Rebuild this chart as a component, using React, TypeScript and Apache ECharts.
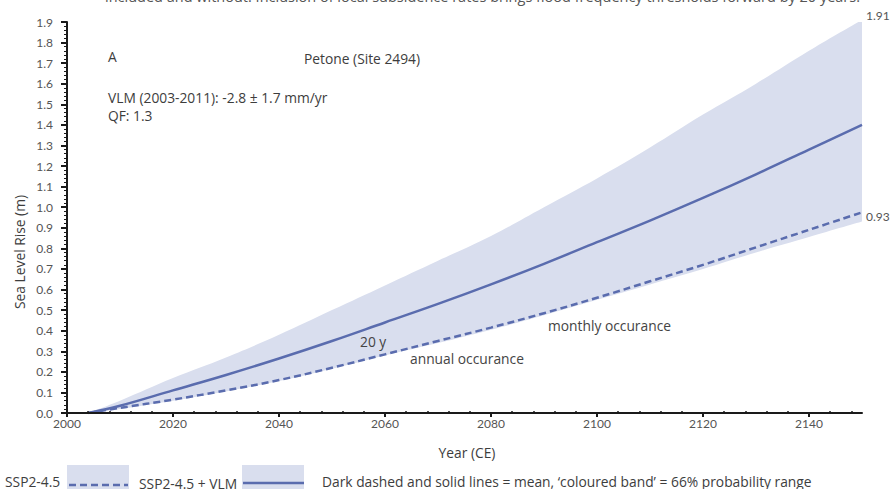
import React, { useEffect, useRef } from "react";
import * as echarts from "echarts";

const years = [2004, 2010, 2020, 2030, 2040, 2050, 2060, 2070, 2080, 2090, 2100, 2110, 2120, 2130, 2140, 2150];
const vlmMean = [0, 0.035, 0.11, 0.185, 0.265, 0.35, 0.44, 0.53, 0.625, 0.725, 0.83, 0.935, 1.045, 1.16, 1.28, 1.4];
const sspMean = [0, 0.025, 0.065, 0.11, 0.16, 0.22, 0.285, 0.35, 0.415, 0.485, 0.56, 0.64, 0.72, 0.805, 0.89, 0.975];
const bandUpper = [0, 0.06, 0.17, 0.27, 0.38, 0.5, 0.62, 0.74, 0.86, 1.0, 1.14, 1.29, 1.45, 1.6, 1.76, 1.91];
const bandLower = [0, 0.02, 0.06, 0.105, 0.155, 0.215, 0.28, 0.34, 0.405, 0.475, 0.55, 0.625, 0.7, 0.78, 0.855, 0.93];
const yTicks = { min: 0, max: 1.9, interval: 0.1 };
const xTicks = { min: 2000, max: 2150, interval: 20 };

const LINE = "#5a6cae";
const BAND = "#d9deee";
const TEXT = "#3d3d3d";
const FONT = "Lato";
const TFONT = "Open Sans";
const TSIZE = 13.8;

export default function App() {
  const ref = useRef<HTMLDivElement>(null);
  useEffect(() => {
    if (!ref.current) return;
    const chart = echarts.init(ref.current, undefined, { renderer: "svg" });
    const pair = (arr: number[]) => years.map((y, i) => [y, arr[i]]);
    const txt = (x: number, y: number, text: string, extra: any = {}) => ({
      type: "text",
      x,
      y,
      z: 100,
      style: { text, fill: TEXT, fontSize: TSIZE, fontFamily: TFONT, verticalAlign: "middle", ...extra },
    });
    chart.setOption({
      animation: false,
      textStyle: { fontFamily: FONT },
      grid: { left: 67, right: 31, top: 22, bottom: 76 },
      xAxis: [
        {
          type: "value",
          z: 10,
          min: xTicks.min,
          max: xTicks.max,
          interval: xTicks.interval,
          axisLine: { show: true, lineStyle: { color: "#1a1a1a", width: 2 } },
          axisTick: { show: true, length: 4, lineStyle: { color: "#1a1a1a", width: 2 } },
          minorTick: { show: false },
          splitLine: { show: false },
          axisLabel: {
            margin: 4,
            color: "#555",
            fontSize: 12,
            fontFamily: FONT,
            showMaxLabel: false,
            formatter: (v: number) => (v % 20 === 0 ? String(v) : ""),
          },
        },
        {
          type: "value",
          z: 10,
          position: "bottom",
          min: xTicks.min,
          max: xTicks.max,
          interval: xTicks.interval,
          axisLine: { show: false },
          axisTick: { show: false, inside: true },
          minorTick: { show: true, splitNumber: 5, length: 2, lineStyle: { color: "#1a1a1a", width: 1.5 } },
          splitLine: { show: false },
          axisLabel: { show: false },
        },
      ],
      yAxis: {
        type: "value",
        z: 10,
        min: yTicks.min,
        max: yTicks.max,
        interval: yTicks.interval,
        axisLine: { show: true, lineStyle: { color: "#1a1a1a", width: 2 } },
        axisTick: { show: true, length: 6, lineStyle: { color: "#1a1a1a", width: 2 } },
        minorTick: { show: true, splitNumber: 5, length: 3, lineStyle: { color: "#1a1a1a", width: 1 } },
        splitLine: { show: false },
        axisLabel: {
          margin: 14,
          color: "#555",
          fontSize: 12,
          fontFamily: FONT,
          formatter: (v: number) => v.toFixed(1),
        },
      },
      series: [
        {
          name: "band upper",
          type: "line",
          data: pair(bandUpper),
          symbol: "none",
          smooth: 0.4,
          lineStyle: { width: 0, opacity: 0 },
          areaStyle: { color: BAND, opacity: 1 },
          silent: true,
          z: 1,
        },
        {
          name: "band lower",
          type: "line",
          data: pair(bandLower),
          symbol: "none",
          smooth: 0.4,
          lineStyle: { width: 0, opacity: 0 },
          areaStyle: { color: "#ffffff", opacity: 1 },
          silent: true,
          z: 2,
        },
        {
          name: "SSP2-4.5",
          type: "line",
          data: pair(sspMean),
          symbol: "none",
          smooth: 0.4,
          lineStyle: { color: LINE, width: 2.5, type: [7, 4] },
          z: 3,
        },
        {
          name: "SSP2-4.5 + VLM",
          type: "line",
          data: pair(vlmMean),
          symbol: "none",
          smooth: 0.4,
          lineStyle: { color: LINE, width: 2.5 },
          z: 3,
        },
      ],
      graphic: [
        {
          type: "text", left: 105, top: -11, z: 100,
          style: { text: "included and without. Inclusion of local subsidence rates brings flood frequency thresholds forward by 20 years.", fill: "#555", fontSize: 14.5, fontFamily: TFONT },
        },
        txt(108, 56, "A"),
        txt(304, 58, "Petone (Site 2494)"),
        txt(108, 97, "VLM (2003-2011): -2.8 ± 1.7 mm/yr"),
        txt(108, 115, "QF: 1.3"),
        txt(360, 341, "20 y", { fill: "#444" }),
        txt(410, 358, "annual occurance", { fill: "#444" }),
        txt(548, 325, "monthly occurance", { fill: "#444" }),
        txt(866, 15, "1.91", { fill: "#555", fontSize: 12, fontFamily: FONT }),
        txt(866, 216, "0.93", { fill: "#555", fontSize: 12, fontFamily: FONT }),
        { type: "text", x: 19, y: 252, z: 100, rotation: Math.PI / 2, style: { text: "Sea Level Rise (m)", fill: TEXT, fontSize: TSIZE, fontFamily: TFONT, align: "center", verticalAlign: "middle" } },
        txt(467, 452, "Year (CE)", { align: "center" }),
        txt(5, 481, "SSP2-4.5"),
        { type: "rect", z: 50, shape: { x: 67, y: 465, width: 62, height: 26 }, style: { fill: BAND } },
        { type: "line", z: 60, shape: { x1: 69, y1: 485, x2: 128, y2: 485 }, style: { stroke: LINE, lineWidth: 2.5, lineDash: [7, 4] } },
        txt(139, 483, "SSP2-4.5 + VLM"),
        { type: "rect", z: 50, shape: { x: 242, y: 465, width: 62, height: 26 }, style: { fill: BAND } },
        { type: "line", z: 60, shape: { x1: 243, y1: 483, x2: 304, y2: 483 }, style: { stroke: LINE, lineWidth: 2.5 } },
        txt(322, 481, "Dark dashed and solid lines = mean, ‘coloured band’ = 66% probability range"),
      ],
    });
    return () => chart.dispose();
  }, []);
  return <div ref={ref} style={{ position: "absolute", left: 0, top: 0, width: 893, height: 489 }} />;
}
